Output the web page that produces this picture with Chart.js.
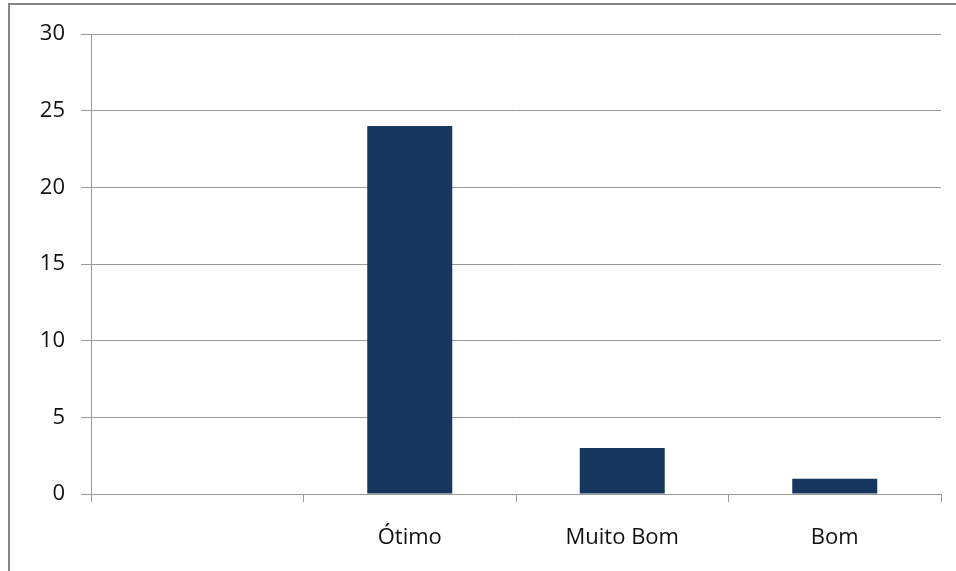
<!DOCTYPE html>
<html>
<head>
<meta charset="utf-8">
<script src="https://cdn.jsdelivr.net/npm/chart.js@4"></script>
<style>
  html, body { margin: 0; padding: 0; background: #fff; overflow: hidden; }
  #frame { position: absolute; left: 8px; top: 3px; width: 2000px; height: 2000px; border: 2px solid #868686; }
  #wrap { position: absolute; left: 0; top: 0; width: 956px; height: 571px; }
</style>
</head>
<body>
<div id="frame"></div>
<div id="wrap"><canvas id="chart"></canvas></div>
<script>
// categories and values
const categories = ['', 'Ótimo', 'Muito Bom', 'Bom'];
const values = [null, 24, 3, 1];
const yTicks = [0, 5, 10, 15, 20, 25, 30];

const gridColor = '#9a9a9a';
const labelFont = { family: '"Open Sans", sans-serif', size: 22 };

new Chart(document.getElementById('chart'), {
  type: 'bar',
  data: {
    labels: categories,
    datasets: [{
      data: values,
      backgroundColor: '#17375E',
      borderWidth: 0,
      barPercentage: 0.4,
      categoryPercentage: 1
    }]
  },
  options: {
    responsive: true,
    maintainAspectRatio: false,
    animation: false,
    layout: { padding: { top: 34, right: 15, left: 0, bottom: 0 } },
    plugins: { legend: { display: false }, tooltip: { enabled: false } },
    scales: {
      x: {
        grid: { drawOnChartArea: false, color: gridColor, tickLength: 8, offset: true },
        border: { color: gridColor },
        ticks: { color: '#111', font: labelFont, padding: 23, maxRotation: 0 },
        afterFit: scale => { scale.height = 77; }
      },
      y: {
        min: 0,
        max: 30,
        afterBuildTicks: scale => { scale.ticks = yTicks.map(v => ({ value: v })); },
        grid: { color: gridColor, tickLength: 10 },
        border: { color: gridColor },
        ticks: { color: '#111', font: labelFont, padding: 16 },
        afterFit: scale => { scale.width = 91; }
      }
    }
  }
});
</script>
</body>
</html>
